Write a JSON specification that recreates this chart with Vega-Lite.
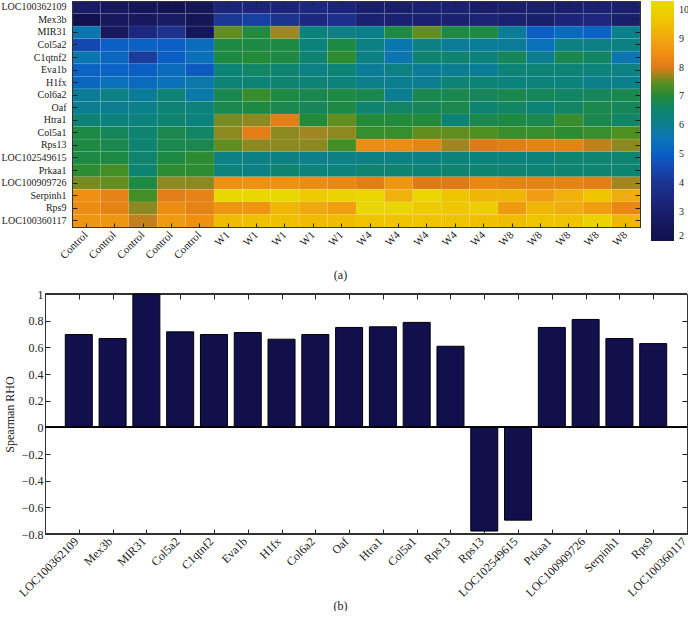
{
  "$schema": "https://vega.github.io/schema/vega-lite/v6.json",
  "padding": {"left": 0, "top": 0, "right": 0, "bottom": 0},
  "background": "white",
  "config": {
    "font": "Liberation Serif",
    "view": {"stroke": "#333", "strokeWidth": 1},
    "axis": {"labelFont": "Liberation Serif", "titleFont": "Liberation Serif", "labelColor": "#222", "titleColor": "#222", "domainColor": "#333", "tickColor": "#222", "grid": false, "titleFontWeight": "normal"},
    "legend": {"gradientVerticalMaxLength": 400}
  },
  "columns": 1,
  "align": "none",
  "spacing": 7,
  "resolve": {"scale": {"color": "independent"}, "legend": {"color": "independent"}},
  "concat": [
    {
      "width": 568,
      "height": 226,
      "data": {"values": [
        {"g":"LOC100362109","s":"Control_1","v":2.9},{"g":"LOC100362109","s":"Control_2","v":2.6},{"g":"LOC100362109","s":"Control_3","v":2.4},{"g":"LOC100362109","s":"Control_4","v":2.2},{"g":"LOC100362109","s":"Control_5","v":2.4},
        {"g":"LOC100362109","s":"W1_1","v":3.3},{"g":"LOC100362109","s":"W1_2","v":3.3},{"g":"LOC100362109","s":"W1_3","v":3.3},{"g":"LOC100362109","s":"W1_4","v":3.5},{"g":"LOC100362109","s":"W1_5","v":3.3},
        {"g":"LOC100362109","s":"W4_1","v":3.0},{"g":"LOC100362109","s":"W4_2","v":3.0},{"g":"LOC100362109","s":"W4_3","v":3.1},{"g":"LOC100362109","s":"W4_4","v":3.1},{"g":"LOC100362109","s":"W4_5","v":2.9},
        {"g":"LOC100362109","s":"W8_1","v":3.0},{"g":"LOC100362109","s":"W8_2","v":3.0},{"g":"LOC100362109","s":"W8_3","v":3.0},{"g":"LOC100362109","s":"W8_4","v":3.1},{"g":"LOC100362109","s":"W8_5","v":3.0},

        {"g":"Mex3b","s":"Control_1","v":2.0},{"g":"Mex3b","s":"Control_2","v":2.6},{"g":"Mex3b","s":"Control_3","v":2.6},{"g":"Mex3b","s":"Control_4","v":2.8},{"g":"Mex3b","s":"Control_5","v":2.4},
        {"g":"Mex3b","s":"W1_1","v":4.1},{"g":"Mex3b","s":"W1_2","v":4.3},{"g":"Mex3b","s":"W1_3","v":4.0},{"g":"Mex3b","s":"W1_4","v":3.5},{"g":"Mex3b","s":"W1_5","v":3.8},
        {"g":"Mex3b","s":"W4_1","v":3.1},{"g":"Mex3b","s":"W4_2","v":3.1},{"g":"Mex3b","s":"W4_3","v":3.1},{"g":"Mex3b","s":"W4_4","v":3.1},{"g":"Mex3b","s":"W4_5","v":3.2},
        {"g":"Mex3b","s":"W8_1","v":3.1},{"g":"Mex3b","s":"W8_2","v":3.0},{"g":"Mex3b","s":"W8_3","v":3.3},{"g":"Mex3b","s":"W8_4","v":3.4},{"g":"Mex3b","s":"W8_5","v":3.0},

        {"g":"MIR31","s":"Control_1","v":5.6},{"g":"MIR31","s":"Control_2","v":2.6},{"g":"MIR31","s":"Control_3","v":3.5},{"g":"MIR31","s":"Control_4","v":3.9},{"g":"MIR31","s":"Control_5","v":2.5},
        {"g":"MIR31","s":"W1_1","v":7.5},{"g":"MIR31","s":"W1_2","v":7.0},{"g":"MIR31","s":"W1_3","v":7.8},{"g":"MIR31","s":"W1_4","v":6.3},{"g":"MIR31","s":"W1_5","v":6.2},
        {"g":"MIR31","s":"W4_1","v":6.1},{"g":"MIR31","s":"W4_2","v":6.9},{"g":"MIR31","s":"W4_3","v":7.5},{"g":"MIR31","s":"W4_4","v":6.9},{"g":"MIR31","s":"W4_5","v":6.9},
        {"g":"MIR31","s":"W8_1","v":5.9},{"g":"MIR31","s":"W8_2","v":5.0},{"g":"MIR31","s":"W8_3","v":5.3},{"g":"MIR31","s":"W8_4","v":5.1},{"g":"MIR31","s":"W8_5","v":6.1},

        {"g":"Col5a2","s":"Control_1","v":4.5},{"g":"Col5a2","s":"Control_2","v":5.0},{"g":"Col5a2","s":"Control_3","v":5.1},{"g":"Col5a2","s":"Control_4","v":5.0},{"g":"Col5a2","s":"Control_5","v":5.3},
        {"g":"Col5a2","s":"W1_1","v":6.9},{"g":"Col5a2","s":"W1_2","v":6.9},{"g":"Col5a2","s":"W1_3","v":6.9},{"g":"Col5a2","s":"W1_4","v":6.3},{"g":"Col5a2","s":"W1_5","v":6.9},
        {"g":"Col5a2","s":"W4_1","v":6.2},{"g":"Col5a2","s":"W4_2","v":5.6},{"g":"Col5a2","s":"W4_3","v":6.2},{"g":"Col5a2","s":"W4_4","v":5.9},{"g":"Col5a2","s":"W4_5","v":5.9},
        {"g":"Col5a2","s":"W8_1","v":5.9},{"g":"Col5a2","s":"W8_2","v":5.4},{"g":"Col5a2","s":"W8_3","v":6.2},{"g":"Col5a2","s":"W8_4","v":6.2},{"g":"Col5a2","s":"W8_5","v":6.2},

        {"g":"C1qtnf2","s":"Control_1","v":5.6},{"g":"C1qtnf2","s":"Control_2","v":5.2},{"g":"C1qtnf2","s":"Control_3","v":4.2},{"g":"C1qtnf2","s":"Control_4","v":5.0},{"g":"C1qtnf2","s":"Control_5","v":5.4},
        {"g":"C1qtnf2","s":"W1_1","v":6.9},{"g":"C1qtnf2","s":"W1_2","v":7.0},{"g":"C1qtnf2","s":"W1_3","v":6.9},{"g":"C1qtnf2","s":"W1_4","v":6.5},{"g":"C1qtnf2","s":"W1_5","v":7.1},
        {"g":"C1qtnf2","s":"W4_1","v":6.2},{"g":"C1qtnf2","s":"W4_2","v":5.6},{"g":"C1qtnf2","s":"W4_3","v":6.5},{"g":"C1qtnf2","s":"W4_4","v":6.5},{"g":"C1qtnf2","s":"W4_5","v":6.3},
        {"g":"C1qtnf2","s":"W8_1","v":6.7},{"g":"C1qtnf2","s":"W8_2","v":6.0},{"g":"C1qtnf2","s":"W8_3","v":6.8},{"g":"C1qtnf2","s":"W8_4","v":6.6},{"g":"C1qtnf2","s":"W8_5","v":5.6},

        {"g":"Eva1b","s":"Control_1","v":5.1},{"g":"Eva1b","s":"Control_2","v":5.1},{"g":"Eva1b","s":"Control_3","v":5.0},{"g":"Eva1b","s":"Control_4","v":5.3},{"g":"Eva1b","s":"Control_5","v":4.9},
        {"g":"Eva1b","s":"W1_1","v":6.4},{"g":"Eva1b","s":"W1_2","v":6.6},{"g":"Eva1b","s":"W1_3","v":6.5},{"g":"Eva1b","s":"W1_4","v":6.2},{"g":"Eva1b","s":"W1_5","v":6.4},
        {"g":"Eva1b","s":"W4_1","v":5.9},{"g":"Eva1b","s":"W4_2","v":6.2},{"g":"Eva1b","s":"W4_3","v":5.9},{"g":"Eva1b","s":"W4_4","v":6.0},{"g":"Eva1b","s":"W4_5","v":5.9},
        {"g":"Eva1b","s":"W8_1","v":6.4},{"g":"Eva1b","s":"W8_2","v":6.4},{"g":"Eva1b","s":"W8_3","v":6.4},{"g":"Eva1b","s":"W8_4","v":6.3},{"g":"Eva1b","s":"W8_5","v":6.2},

        {"g":"H1fx","s":"Control_1","v":5.2},{"g":"H1fx","s":"Control_2","v":5.4},{"g":"H1fx","s":"Control_3","v":5.3},{"g":"H1fx","s":"Control_4","v":5.4},{"g":"H1fx","s":"Control_5","v":5.7},
        {"g":"H1fx","s":"W1_1","v":6.4},{"g":"H1fx","s":"W1_2","v":6.4},{"g":"H1fx","s":"W1_3","v":6.5},{"g":"H1fx","s":"W1_4","v":6.4},{"g":"H1fx","s":"W1_5","v":6.3},
        {"g":"H1fx","s":"W4_1","v":6.1},{"g":"H1fx","s":"W4_2","v":6.0},{"g":"H1fx","s":"W4_3","v":6.0},{"g":"H1fx","s":"W4_4","v":6.4},{"g":"H1fx","s":"W4_5","v":6.4},
        {"g":"H1fx","s":"W8_1","v":6.3},{"g":"H1fx","s":"W8_2","v":6.3},{"g":"H1fx","s":"W8_3","v":6.3},{"g":"H1fx","s":"W8_4","v":6.1},{"g":"H1fx","s":"W8_5","v":6.1},

        {"g":"Col6a2","s":"Control_1","v":5.9},{"g":"Col6a2","s":"Control_2","v":6.2},{"g":"Col6a2","s":"Control_3","v":5.9},{"g":"Col6a2","s":"Control_4","v":6.4},{"g":"Col6a2","s":"Control_5","v":5.7},
        {"g":"Col6a2","s":"W1_1","v":6.8},{"g":"Col6a2","s":"W1_2","v":7.2},{"g":"Col6a2","s":"W1_3","v":6.9},{"g":"Col6a2","s":"W1_4","v":6.8},{"g":"Col6a2","s":"W1_5","v":6.9},
        {"g":"Col6a2","s":"W4_1","v":6.8},{"g":"Col6a2","s":"W4_2","v":6.0},{"g":"Col6a2","s":"W4_3","v":6.8},{"g":"Col6a2","s":"W4_4","v":6.8},{"g":"Col6a2","s":"W4_5","v":6.7},
        {"g":"Col6a2","s":"W8_1","v":6.8},{"g":"Col6a2","s":"W8_2","v":6.7},{"g":"Col6a2","s":"W8_3","v":6.6},{"g":"Col6a2","s":"W8_4","v":6.7},{"g":"Col6a2","s":"W8_5","v":6.8},

        {"g":"Oaf","s":"Control_1","v":6.0},{"g":"Oaf","s":"Control_2","v":6.0},{"g":"Oaf","s":"Control_3","v":6.1},{"g":"Oaf","s":"Control_4","v":6.4},{"g":"Oaf","s":"Control_5","v":6.3},
        {"g":"Oaf","s":"W1_1","v":6.8},{"g":"Oaf","s":"W1_2","v":6.9},{"g":"Oaf","s":"W1_3","v":6.8},{"g":"Oaf","s":"W1_4","v":6.7},{"g":"Oaf","s":"W1_5","v":6.9},
        {"g":"Oaf","s":"W4_1","v":6.5},{"g":"Oaf","s":"W4_2","v":6.6},{"g":"Oaf","s":"W4_3","v":6.7},{"g":"Oaf","s":"W4_4","v":6.8},{"g":"Oaf","s":"W4_5","v":6.5},
        {"g":"Oaf","s":"W8_1","v":6.6},{"g":"Oaf","s":"W8_2","v":6.4},{"g":"Oaf","s":"W8_3","v":6.6},{"g":"Oaf","s":"W8_4","v":6.8},{"g":"Oaf","s":"W8_5","v":6.7},

        {"g":"Htra1","s":"Control_1","v":6.4},{"g":"Htra1","s":"Control_2","v":6.3},{"g":"Htra1","s":"Control_3","v":6.3},{"g":"Htra1","s":"Control_4","v":6.5},{"g":"Htra1","s":"Control_5","v":6.3},
        {"g":"Htra1","s":"W1_1","v":7.6},{"g":"Htra1","s":"W1_2","v":7.7},{"g":"Htra1","s":"W1_3","v":8.1},{"g":"Htra1","s":"W1_4","v":7.0},{"g":"Htra1","s":"W1_5","v":7.5},
        {"g":"Htra1","s":"W4_1","v":7.0},{"g":"Htra1","s":"W4_2","v":7.0},{"g":"Htra1","s":"W4_3","v":7.0},{"g":"Htra1","s":"W4_4","v":6.4},{"g":"Htra1","s":"W4_5","v":6.8},
        {"g":"Htra1","s":"W8_1","v":6.9},{"g":"Htra1","s":"W8_2","v":6.8},{"g":"Htra1","s":"W8_3","v":7.2},{"g":"Htra1","s":"W8_4","v":6.8},{"g":"Htra1","s":"W8_5","v":6.6},

        {"g":"Col5a1","s":"Control_1","v":6.9},{"g":"Col5a1","s":"Control_2","v":6.7},{"g":"Col5a1","s":"Control_3","v":6.5},{"g":"Col5a1","s":"Control_4","v":6.8},{"g":"Col5a1","s":"Control_5","v":6.6},
        {"g":"Col5a1","s":"W1_1","v":7.7},{"g":"Col5a1","s":"W1_2","v":8.1},{"g":"Col5a1","s":"W1_3","v":7.7},{"g":"Col5a1","s":"W1_4","v":7.8},{"g":"Col5a1","s":"W1_5","v":7.7},
        {"g":"Col5a1","s":"W4_1","v":7.2},{"g":"Col5a1","s":"W4_2","v":7.2},{"g":"Col5a1","s":"W4_3","v":7.5},{"g":"Col5a1","s":"W4_4","v":7.5},{"g":"Col5a1","s":"W4_5","v":7.4},
        {"g":"Col5a1","s":"W8_1","v":7.2},{"g":"Col5a1","s":"W8_2","v":7.2},{"g":"Col5a1","s":"W8_3","v":7.1},{"g":"Col5a1","s":"W8_4","v":7.2},{"g":"Col5a1","s":"W8_5","v":7.4},

        {"g":"Rps13","s":"Control_1","v":6.9},{"g":"Rps13","s":"Control_2","v":6.8},{"g":"Rps13","s":"Control_3","v":6.5},{"g":"Rps13","s":"Control_4","v":6.8},{"g":"Rps13","s":"Control_5","v":6.8},
        {"g":"Rps13","s":"W1_1","v":7.5},{"g":"Rps13","s":"W1_2","v":7.7},{"g":"Rps13","s":"W1_3","v":7.7},{"g":"Rps13","s":"W1_4","v":7.7},{"g":"Rps13","s":"W1_5","v":7.3},
        {"g":"Rps13","s":"W4_1","v":8.4},{"g":"Rps13","s":"W4_2","v":8.4},{"g":"Rps13","s":"W4_3","v":8.2},{"g":"Rps13","s":"W4_4","v":7.8},{"g":"Rps13","s":"W4_5","v":8.0},
        {"g":"Rps13","s":"W8_1","v":8.1},{"g":"Rps13","s":"W8_2","v":8.2},{"g":"Rps13","s":"W8_3","v":8.2},{"g":"Rps13","s":"W8_4","v":7.9},{"g":"Rps13","s":"W8_5","v":7.7},

        {"g":"LOC102549615","s":"Control_1","v":6.9},{"g":"LOC102549615","s":"Control_2","v":6.9},{"g":"LOC102549615","s":"Control_3","v":6.5},{"g":"LOC102549615","s":"Control_4","v":6.9},{"g":"LOC102549615","s":"Control_5","v":7.1},
        {"g":"LOC102549615","s":"W1_1","v":6.2},{"g":"LOC102549615","s":"W1_2","v":6.2},{"g":"LOC102549615","s":"W1_3","v":6.2},{"g":"LOC102549615","s":"W1_4","v":6.1},{"g":"LOC102549615","s":"W1_5","v":6.2},
        {"g":"LOC102549615","s":"W4_1","v":6.2},{"g":"LOC102549615","s":"W4_2","v":6.2},{"g":"LOC102549615","s":"W4_3","v":6.2},{"g":"LOC102549615","s":"W4_4","v":6.3},{"g":"LOC102549615","s":"W4_5","v":6.3},
        {"g":"LOC102549615","s":"W8_1","v":6.3},{"g":"LOC102549615","s":"W8_2","v":6.3},{"g":"LOC102549615","s":"W8_3","v":6.5},{"g":"LOC102549615","s":"W8_4","v":6.5},{"g":"LOC102549615","s":"W8_5","v":6.5},

        {"g":"Prkaa1","s":"Control_1","v":7.1},{"g":"Prkaa1","s":"Control_2","v":7.3},{"g":"Prkaa1","s":"Control_3","v":6.5},{"g":"Prkaa1","s":"Control_4","v":7.1},{"g":"Prkaa1","s":"Control_5","v":7.1},
        {"g":"Prkaa1","s":"W1_1","v":6.3},{"g":"Prkaa1","s":"W1_2","v":6.2},{"g":"Prkaa1","s":"W1_3","v":6.5},{"g":"Prkaa1","s":"W1_4","v":6.3},{"g":"Prkaa1","s":"W1_5","v":6.3},
        {"g":"Prkaa1","s":"W4_1","v":6.5},{"g":"Prkaa1","s":"W4_2","v":6.5},{"g":"Prkaa1","s":"W4_3","v":6.4},{"g":"Prkaa1","s":"W4_4","v":6.5},{"g":"Prkaa1","s":"W4_5","v":6.5},
        {"g":"Prkaa1","s":"W8_1","v":6.5},{"g":"Prkaa1","s":"W8_2","v":6.4},{"g":"Prkaa1","s":"W8_3","v":6.5},{"g":"Prkaa1","s":"W8_4","v":6.5},{"g":"Prkaa1","s":"W8_5","v":6.5},

        {"g":"LOC100909726","s":"Control_1","v":7.6},{"g":"LOC100909726","s":"Control_2","v":7.5},{"g":"LOC100909726","s":"Control_3","v":6.9},{"g":"LOC100909726","s":"Control_4","v":7.7},{"g":"LOC100909726","s":"Control_5","v":7.7},
        {"g":"LOC100909726","s":"W1_1","v":8.5},{"g":"LOC100909726","s":"W1_2","v":8.5},{"g":"LOC100909726","s":"W1_3","v":8.5},{"g":"LOC100909726","s":"W1_4","v":8.4},{"g":"LOC100909726","s":"W1_5","v":8.3},
        {"g":"LOC100909726","s":"W4_1","v":8.1},{"g":"LOC100909726","s":"W4_2","v":8.6},{"g":"LOC100909726","s":"W4_3","v":8.0},{"g":"LOC100909726","s":"W4_4","v":8.0},{"g":"LOC100909726","s":"W4_5","v":8.3},
        {"g":"LOC100909726","s":"W8_1","v":8.2},{"g":"LOC100909726","s":"W8_2","v":8.2},{"g":"LOC100909726","s":"W8_3","v":8.2},{"g":"LOC100909726","s":"W8_4","v":8.1},{"g":"LOC100909726","s":"W8_5","v":7.8},

        {"g":"Serpinh1","s":"Control_1","v":8.5},{"g":"Serpinh1","s":"Control_2","v":8.2},{"g":"Serpinh1","s":"Control_3","v":7.3},{"g":"Serpinh1","s":"Control_4","v":8.1},{"g":"Serpinh1","s":"Control_5","v":8.2},
        {"g":"Serpinh1","s":"W1_1","v":10.2},{"g":"Serpinh1","s":"W1_2","v":10.2},{"g":"Serpinh1","s":"W1_3","v":10.2},{"g":"Serpinh1","s":"W1_4","v":9.8},{"g":"Serpinh1","s":"W1_5","v":10.0},
        {"g":"Serpinh1","s":"W4_1","v":10.1},{"g":"Serpinh1","s":"W4_2","v":9.2},{"g":"Serpinh1","s":"W4_3","v":10.1},{"g":"Serpinh1","s":"W4_4","v":9.6},{"g":"Serpinh1","s":"W4_5","v":9.3},
        {"g":"Serpinh1","s":"W8_1","v":9.3},{"g":"Serpinh1","s":"W8_2","v":8.8},{"g":"Serpinh1","s":"W8_3","v":9.2},{"g":"Serpinh1","s":"W8_4","v":9.6},{"g":"Serpinh1","s":"W8_5","v":9.1},

        {"g":"Rps9","s":"Control_1","v":8.4},{"g":"Rps9","s":"Control_2","v":8.2},{"g":"Rps9","s":"Control_3","v":7.7},{"g":"Rps9","s":"Control_4","v":8.4},{"g":"Rps9","s":"Control_5","v":8.2},
        {"g":"Rps9","s":"W1_1","v":8.6},{"g":"Rps9","s":"W1_2","v":8.6},{"g":"Rps9","s":"W1_3","v":9.3},{"g":"Rps9","s":"W1_4","v":9.0},{"g":"Rps9","s":"W1_5","v":8.8},
        {"g":"Rps9","s":"W4_1","v":10.1},{"g":"Rps9","s":"W4_2","v":10.1},{"g":"Rps9","s":"W4_3","v":9.8},{"g":"Rps9","s":"W4_4","v":9.7},{"g":"Rps9","s":"W4_5","v":9.9},
        {"g":"Rps9","s":"W8_1","v":8.7},{"g":"Rps9","s":"W8_2","v":9.3},{"g":"Rps9","s":"W8_3","v":9.1},{"g":"Rps9","s":"W8_4","v":8.8},{"g":"Rps9","s":"W8_5","v":8.3},

        {"g":"LOC100360117","s":"Control_1","v":8.6},{"g":"LOC100360117","s":"Control_2","v":8.6},{"g":"LOC100360117","s":"Control_3","v":7.9},{"g":"LOC100360117","s":"Control_4","v":8.7},{"g":"LOC100360117","s":"Control_5","v":8.5},
        {"g":"LOC100360117","s":"W1_1","v":9.4},{"g":"LOC100360117","s":"W1_2","v":9.5},{"g":"LOC100360117","s":"W1_3","v":9.5},{"g":"LOC100360117","s":"W1_4","v":9.4},{"g":"LOC100360117","s":"W1_5","v":9.4},
        {"g":"LOC100360117","s":"W4_1","v":9.6},{"g":"LOC100360117","s":"W4_2","v":9.6},{"g":"LOC100360117","s":"W4_3","v":9.6},{"g":"LOC100360117","s":"W4_4","v":9.6},{"g":"LOC100360117","s":"W4_5","v":9.5},
        {"g":"LOC100360117","s":"W8_1","v":9.4},{"g":"LOC100360117","s":"W8_2","v":9.6},{"g":"LOC100360117","s":"W8_3","v":9.6},{"g":"LOC100360117","s":"W8_4","v":10.0},{"g":"LOC100360117","s":"W8_5","v":9.3}
      ]},
      "layer": [
        {
          "mark": {"type": "rect", "stroke": "#ffffff", "strokeWidth": 0.5, "strokeOpacity": 0.15},
          "encoding": {
            "x": {"field": "s", "type": "nominal", "sort": null, "scale": {"paddingInner": 0, "paddingOuter": 0},
              "axis": {"orient": "bottom", "labelAngle": -45, "labelAlign": "right", "labelBaseline": "middle", "labelExpr": "split(datum.value, '_')[0]", "labelFontSize": 11, "tickSize": -4, "labelPadding": 10, "domain": true,
                "title": "(a)", "titleFontSize": 12, "titleX": 268, "titleY": 47, "titleBaseline": "middle", "titleAlign": "center", "titleAngle": 0}},
            "y": {"field": "g", "type": "nominal", "sort": null, "scale": {"paddingInner": 0, "paddingOuter": 0},
              "axis": {"orient": "left", "tickSize": -5, "labelPadding": 11, "labelFontSize": 10, "title": null}},
            "color": {"field": "v", "type": "quantitative",
              "scale": {"interpolate": "rgb",
                "domain": [2, 2.5, 3, 3.5, 4, 4.5, 5, 5.5, 6, 6.5, 7, 7.4, 7.8, 8, 8.5, 9, 9.5, 10.3],
                "range": ["#111150", "#15175a", "#1a1f6c", "#1c2880", "#1c3490", "#1448b0", "#0a5ec4", "#0a74b8", "#0a7e90", "#0e8470", "#228a38", "#4e9020", "#a08620", "#e07a18", "#f09010", "#f0a810", "#f0c000", "#e8dc00"]},
              "legend": {"orient": "right", "offset": 10, "title": null, "direction": "vertical", "gradientLength": 240, "gradientThickness": 23, "gradientStrokeWidth": 0, "labelFontSize": 10, "labelFont": "Liberation Serif", "labelColor": "#222", "labelOffset": 5, "values": [2, 3, 4, 5, 6, 7, 8, 9, 10]}}
          }
        },
        {
          "mark": {"type": "rect", "opacity": 0},
          "encoding": {
            "x": {"field": "s", "type": "nominal", "sort": null, "axis": {"orient": "top", "labels": false, "tickSize": -4, "title": null}},
            "y": {"field": "g", "type": "nominal", "sort": null, "axis": {"orient": "right", "labels": false, "tickSize": -5, "title": null}}
          }
        }
      ],
      "resolve": {"axis": {"x": "independent", "y": "independent"}}
    },
    {
      "width": 615,
      "height": 240,
      "view": {"stroke": null},
      "data": {"values": [
        {"pos": 1, "gene": "LOC100362109", "rho": 0.696},
        {"pos": 2, "gene": "Mex3b", "rho": 0.666},
        {"pos": 3, "gene": "MIR31", "rho": 1.0},
        {"pos": 4, "gene": "Col5a2", "rho": 0.716},
        {"pos": 5, "gene": "C1qtnf2", "rho": 0.696},
        {"pos": 6, "gene": "Eva1b", "rho": 0.711},
        {"pos": 7, "gene": "H1fx", "rho": 0.661},
        {"pos": 8, "gene": "Col6a2", "rho": 0.696},
        {"pos": 9, "gene": "Oaf", "rho": 0.749},
        {"pos": 10, "gene": "Htra1", "rho": 0.754},
        {"pos": 11, "gene": "Col5a1", "rho": 0.787},
        {"pos": 12, "gene": "Rps13", "rho": 0.608},
        {"pos": 13, "gene": "Rps13", "rho": -0.778},
        {"pos": 14, "gene": "LOC102549615", "rho": -0.696},
        {"pos": 15, "gene": "Prkaa1", "rho": 0.749},
        {"pos": 16, "gene": "LOC100909726", "rho": 0.809},
        {"pos": 17, "gene": "Serpinh1", "rho": 0.666},
        {"pos": 18, "gene": "Rps9", "rho": 0.628}
      ]},
      "layer": [
        {
          "mark": {"type": "rule", "color": "#333", "strokeWidth": 1},
          "encoding": {
            "x": {"datum": 0, "type": "quantitative", "scale": {"domain": [0.799, 19], "nice": false, "zero": false, "padding": 0}, "axis": null},
            "x2": {"datum": 19},
            "y": {"datum": 1, "type": "quantitative", "scale": {"domain": [-0.8, 1], "nice": false, "zero": false}, "axis": null}
          }
        },
        {
          "mark": {"type": "rule", "color": "#333", "strokeWidth": 1},
          "encoding": {
            "x": {"datum": 0, "type": "quantitative", "axis": null},
            "x2": {"datum": 19},
            "y": {"datum": -0.8, "type": "quantitative", "axis": null}
          }
        },
        {
          "mark": {"type": "bar", "size": 27, "color": "#12104c", "stroke": "#000", "strokeWidth": 1},
          "encoding": {
            "x": {"field": "pos", "type": "quantitative", "scale": {"domain": [0.799, 19], "nice": false, "zero": false, "padding": 0},
              "axis": {"orient": "bottom", "values": [1, 2, 3, 4, 5, 6, 7, 8, 9, 10, 11, 12, 13, 14, 15, 16, 17, 18, 19],
                "labelExpr": "['LOC100362109','Mex3b','MIR31','Col5a2','C1qtnf2','Eva1b','H1fx','Col6a2','Oaf','Htra1','Col5a1','Rps13','Rps13','LOC102549615','Prkaa1','LOC100909726','Serpinh1','Rps9','LOC100360117'][datum.value - 1]",
                "labelAngle": -45, "labelAlign": "right", "labelBaseline": "middle", "labelFontSize": 12, "labelOverlap": false, "labelFlush": false, "labelOffset": -3, "tickSize": -5, "labelPadding": 10, "domain": false,
                "title": "(b)", "titleFontSize": 12, "titleX": 268, "titleY": 71, "titleBaseline": "middle", "titleAlign": "center", "titleAngle": 0}},
            "y": {"field": "rho", "type": "quantitative", "scale": {"domain": [-0.8, 1], "nice": false, "zero": false},
              "axis": {"orient": "left", "offset": 27, "values": [-0.8, -0.6, -0.4, -0.2, 0, 0.2, 0.4, 0.6, 0.8, 1], "format": "~g", "tickSize": -5, "labelPadding": 7, "labelFontSize": 12, "labelFlush": false, "labelOverlap": false,
                "title": "Spearman RHO", "titleFontSize": 12, "titlePadding": 5}}
          }
        },
        {
          "mark": {"type": "rule", "color": "#000", "strokeWidth": 1},
          "encoding": {
            "x": {"datum": 0, "type": "quantitative", "axis": null},
            "x2": {"datum": 19},
            "y": {"datum": 0, "type": "quantitative", "axis": null}
          }
        },
        {
          "mark": {"type": "bar", "size": 27, "opacity": 0},
          "encoding": {
            "x": {"field": "pos", "type": "quantitative", "axis": {"orient": "top", "values": [1, 2, 3, 4, 5, 6, 7, 8, 9, 10, 11, 12, 13, 14, 15, 16, 17, 18, 19], "labels": false, "domain": false, "tickSize": -5, "title": null}},
            "y": {"field": "rho", "type": "quantitative", "axis": {"orient": "right", "labels": false, "values": [-0.8, -0.6, -0.4, -0.2, 0, 0.2, 0.4, 0.6, 0.8, 1], "tickSize": -5, "title": null}}
          }
        }
      ],
      "resolve": {"axis": {"x": "independent", "y": "independent"}}
    }
  ]
}
